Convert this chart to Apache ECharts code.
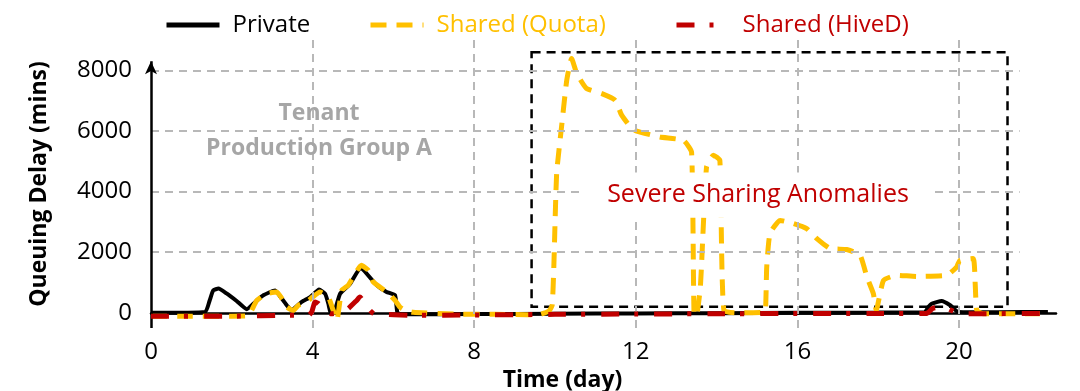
<!DOCTYPE html>
<html style="height: 100%">
<head>
    <meta charset="utf-8">
</head>
<body style="height: 100%; margin: 0; background: #fff">
<div id="container" style="width: 1080px; height: 391px"></div>
<script type="text/javascript" src="https://fastly.jsdelivr.net/npm/echarts@6.0.0/dist/echarts.min.js"></script>
<script type="text/javascript">
    // [day, queuing delay in mins]
    var privateData = [
        [0, 0], [1.34, 30], [1.45, 400], [1.54, 740], [1.67, 800], [1.87, 640], [2.12, 390],
        [2.37, 120], [2.58, 360], [2.78, 580], [3.07, 740], [3.15, 630], [3.36, 250], [3.48, 90],
        [3.73, 360], [3.94, 520], [4.16, 770], [4.31, 630], [4.39, 300], [4.45, -20], [4.55, 80],
        [4.68, 630], [4.93, 960], [5.19, 1490], [5.34, 1290], [5.59, 910], [5.83, 690], [6.04, 580],
        [6.1, 0], [6.24, -50], [8, -40], [10, -30], [12, -20], [14, -10], [16, 0], [18, 10],
        [19.15, 20], [19.24, 190], [19.32, 300], [19.57, 390], [19.78, 250], [19.98, 30],
        [21, 20], [22.2, 30]
    ];
    var quotaData = [
        [0, -110], [1, -110], [2, -110], [2.4, -100], [2.49, 80], [2.62, 410], [2.86, 630],
        [3.11, 690], [3.27, 410], [3.36, 190], [3.52, 80], [3.65, 250], [3.85, 360], [4.0, 520],
        [4.18, 690], [4.39, 520], [4.51, 80], [4.6, -250], [4.72, 740], [4.88, 910], [5.21, 1570],
        [5.38, 1400], [5.5, 1020], [5.83, 690], [6.04, 410], [6.16, 190], [6.29, 80], [6.49, 20],
        [7.5, -40], [8.5, -50], [9.3, -60], [9.63, -50], [9.85, 60], [9.93, 250], [9.97, 1500],
        [10.04, 4590], [10.17, 6240], [10.29, 7670], [10.41, 8390], [10.54, 7890], [10.78, 7400],
        [11.16, 7230], [11.49, 7010], [11.65, 6520], [11.94, 6040], [12.6, 5800], [13.18, 5690],
        [13.38, 5300], [13.44, -30], [13.5, -100], [13.6, 900], [13.75, 4810], [13.92, 5200],
        [14.08, 5030], [14.18, 80], [14.6, 0], [15.15, 20], [15.21, 80], [15.24, 1510],
        [15.32, 2610], [15.57, 3050], [15.9, 2950], [16.23, 2780], [16.48, 2450], [16.81, 2120],
        [17.22, 2090], [17.55, 1900], [17.72, 1180], [17.88, 630], [17.95, 80], [18.13, 1070],
        [18.46, 1240], [18.95, 1200], [19.7, 1240], [19.94, 1510], [20.02, 1730], [20.35, 1790],
        [20.4, 960], [20.44, 80], [20.6, -30], [21.5, -30], [22.0, -30]
    ];
    var hivedData = [
        [0, -110], [2, -110], [3.44, -80], [3.9, -80], [3.98, 30], [4.06, 360], [4.15, 300],
        [4.3, 60], [4.47, -30], [4.7, 20], [4.88, 140], [5.09, 410], [5.17, 520], [5.3, 300],
        [5.42, 80], [5.52, -30], [6.5, -80], [8, -70], [10, -50], [12, -40], [14, -30], [16, -20],
        [18, -20], [19.2, -20], [19.35, 150], [19.6, 200], [20.02, -30], [22.2, -20]
    ];
    var seriesNames = ['Private', 'Shared (Quota)', 'Shared (HiveD)'];
    var yTicks = [2000, 4000, 6000, 8000];
    var xTicks = [4, 8, 12, 16, 20];
    // the "Severe Sharing Anomalies" box: [day, mins] corners
    var anomalyBox = [[9.42, 8600], [21.2, 200]];

    var font = 'Open Sans';
    var gridGray = '#b8b8b8';

    var dom = document.getElementById('container');
    var myChart = echarts.init(dom, null, {renderer: 'canvas'});

    var gridLines = [];
    yTicks.forEach(function (v) {
        gridLines.push([{coord: [0, v]}, {coord: [21.5, v]}]);
    });
    xTicks.forEach(function (d) {
        gridLines.push([{coord: [d, -500]}, {coord: [d, 9000]}]);
    });

    function legendFor(name, color, left) {
        return {
            left: left,
            top: 13,
            padding: 0,
            itemWidth: 53,
            itemHeight: 14,
            itemStyle: {opacity: 0},
            lineStyle: {width: 5},
            data: [name],
            textStyle: {color: color, fontFamily: font, fontSize: 24, padding: [0, 0, 0, 8]}
        };
    }

    var option = {
        animation: false,
        grid: {left: 151, right: 24, top: 40, bottom: 63, outerBoundsMode: 'none'},
        legend: [
            legendFor('Private', '#000000', 164),
            legendFor('Shared (Quota)', '#FFC000', 368),
            legendFor('Shared (HiveD)', '#C00000', 674)
        ],
        xAxis: {
            type: 'value',
            min: 0,
            max: 22.4,
            interval: 4,
            name: 'Time (day)',
            nameLocation: 'middle',
            nameGap: 36,
            nameTextStyle: {
                fontFamily: font, fontSize: 23, fontWeight: 'bold', color: '#000',
                padding: [0, 82, 0, 0]
            },
            axisLine: {lineStyle: {color: '#000', width: 2.5}},
            axisTick: {show: false},
            splitLine: {show: false},
            axisLabel: {
                fontFamily: font, fontSize: 24, color: '#000', margin: 12,
                showMaxLabel: false
            }
        },
        yAxis: {
            type: 'value',
            min: -500,
            max: 9000,
            interval: 500,
            name: 'Queuing Delay (mins)',
            nameLocation: 'middle',
            nameGap: 100,
            nameRotate: 90,
            nameTextStyle: {fontFamily: font, fontSize: 23, fontWeight: 'bold', color: '#000'},
            axisLine: {show: false},
            axisTick: {show: false},
            splitLine: {show: false},
            axisLabel: {
                fontFamily: font, fontSize: 24, color: '#000', margin: 19,
                formatter: function (v) {
                    return v >= 0 && v % 2000 === 0 ? String(v) : '';
                }
            }
        },
        graphic: [
            {
                type: 'text',
                x: 319,
                y: 131,
                z: 100,
                style: {
                    text: 'Tenant\nProduction Group A',
                    fill: '#a6a6a6',
                    fontFamily: font,
                    fontSize: 23,
                    fontWeight: 'bold',
                    lineHeight: 35,
                    align: 'center',
                    verticalAlign: 'middle'
                }
            },
            {
                // label sits on a white box that hides the lines behind it
                type: 'text',
                x: 758,
                y: 195,
                z: 100,
                style: {
                    text: 'Severe Sharing Anomalies',
                    fill: '#C00000',
                    fontFamily: font,
                    fontSize: 25,
                    align: 'center',
                    verticalAlign: 'middle',
                    backgroundColor: '#fff',
                    padding: [10, 26, 10, 26]
                }
            }
        ],
        series: [
            {
                // dashed grid lines
                type: 'line',
                data: [],
                z: 1,
                silent: true,
                markLine: {
                    silent: true,
                    symbol: ['none', 'none'],
                    label: {show: false},
                    lineStyle: {color: gridGray, width: 2, type: [8, 6]},
                    data: gridLines
                }
            },
            {
                // y axis line with arrow
                type: 'line',
                data: [],
                z: 6,
                silent: true,
                markLine: {
                    silent: true,
                    symbol: ['none', 'arrow'],
                    symbolSize: [9, 13],
                    label: {show: false},
                    lineStyle: {color: '#000', width: 2.5, type: 'solid'},
                    data: [[{coord: [0, -500]}, {coord: [0, 8300]}]]
                }
            },
            {
                // anomaly box
                type: 'line',
                data: [],
                z: 2,
                silent: true,
                markArea: {
                    silent: true,
                    itemStyle: {
                        color: 'rgba(0,0,0,0)',
                        borderColor: '#000',
                        borderWidth: 2.5,
                        borderType: [9, 6]
                    },
                    data: [[{coord: anomalyBox[0]}, {coord: anomalyBox[1]}]]
                }
            },
            {
                name: seriesNames[0],
                type: 'line',
                data: privateData,
                symbol: 'none',
                smooth: 0.15,
                z: 3,
                color: '#000000',
                lineStyle: {color: '#000000', width: 4}
            },
            {
                name: seriesNames[1],
                type: 'line',
                data: quotaData,
                symbol: 'none',
                smooth: 0.15,
                z: 4,
                color: '#FFC000',
                lineStyle: {color: '#FFC000', width: 5, type: [16, 10]}
            },
            {
                name: seriesNames[2],
                type: 'line',
                data: hivedData,
                symbol: 'none',
                smooth: 0.15,
                z: 5,
                color: '#C00000',
                lineStyle: {color: '#C00000', width: 5, type: [18, 15, 4, 16]}
            }
        ]
    };

    myChart.setOption(option);
    window.addEventListener('resize', myChart.resize);
</script>
</body>
</html>
